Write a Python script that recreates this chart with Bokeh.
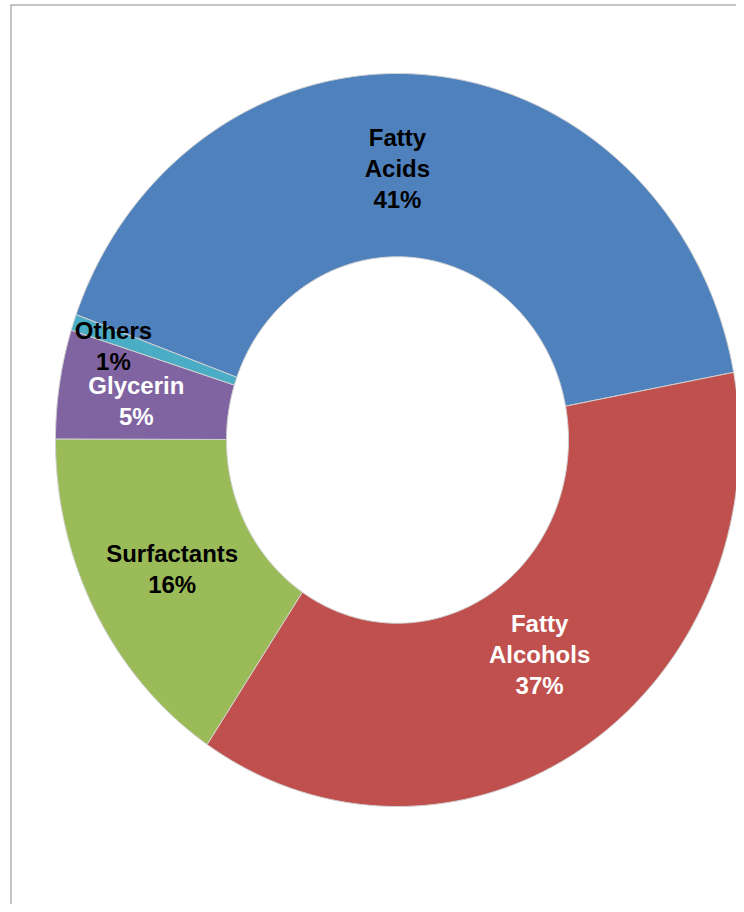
import numpy as np
from bokeh.plotting import figure
from bokeh.models import ColumnDataSource, Range1d, Span
from bokeh.core.properties import value
from bokeh.embed import file_html
from bokeh.resources import INLINE

# ---- data ----
categories = ["Fatty Acids", "Fatty Alcohols", "Surfactants", "Glycerin", "Others"]
shares = [41.49, 37.35, 15.65, 4.80, 0.71]          # percent
colors = ["#4F81BD", "#C0504D", "#9BBB59", "#8064A2", "#4BACC6"]
label_colors = ["#000000", "#FFFFFF", "#000000", "#FFFFFF", "#000000"]

# ---- layout ----
start_angle_deg = 160.0      # first slice starts here, slices run clockwise
inner_r, outer_r = 0.5, 1.0
label_r = [0.741, 0.717, 0.747, 0.771, 0.869]
label_angle_nudge = [4.7, 2.0, 0.1, 0.9, 1.6]   # degrees

total = float(sum(shares))
spans = [s / total * 360.0 for s in shares]
ends = start_angle_deg - np.cumsum(spans)
starts = ends + np.array(spans)

xs, ys, lx, ly, texts = [], [], [], [], []
for i, (a0, a1) in enumerate(zip(starts, ends)):
    n = max(int(abs(a0 - a1) * 2), 8)
    t = np.radians(np.linspace(a0, a1, n))
    xo, yo = outer_r * np.cos(t), outer_r * np.sin(t)
    xi, yi = inner_r * np.cos(t[::-1]), inner_r * np.sin(t[::-1])
    xs.append(np.concatenate([xo, xi]).tolist())
    ys.append(np.concatenate([yo, yi]).tolist())
    mid = np.radians((a0 + a1) / 2 + label_angle_nudge[i])
    lx.append(label_r[i] * np.cos(mid))
    ly.append(label_r[i] * np.sin(mid))
    texts.append(categories[i].replace(" ", "\n") + "\n" + f"{round(shares[i])}%")

src = ColumnDataSource(dict(xs=xs, ys=ys, color=colors))
lsrc = ColumnDataSource(dict(x=lx, y=ly, text=texts, tc=label_colors))

# screen geometry: centre at (405, 447.5) page px, radius 342 px (x) by 366.5 px (y)
W, H = 736, 904
left_pad, top_pad = 10, 4
cx, cy, sx, sy = 405 - 8, 447.5 - 8, 342.0, 366.5
x0 = (left_pad - cx) / sx
x1 = (W - cx) / sx
y1 = (cy - top_pad) / sy
y0 = (cy - H) / sy

p = figure(width=W, height=H, output_backend="svg", toolbar_location=None,
           x_range=Range1d(x0, x1), y_range=Range1d(y0, y1),
           min_border_left=left_pad, min_border_top=top_pad,
           min_border_right=0, min_border_bottom=0)
p.axis.visible = False
p.grid.visible = False
p.outline_line_color = None
p.background_fill_color = "white"
p.border_fill_color = "white"

p.patches("xs", "ys", source=src, fill_color="color", line_color="#d0d0d0", line_width=1)

p.text("x", "y", text="text", source=lsrc, text_color="tc",
       text_font=value("Liberation Sans"), text_font_style="bold",
       text_font_size="24px", text_align="center", text_baseline="middle",
       text_line_height=1.15)

p.add_layout(Span(location=x0, dimension="height", line_color="#8c8c8c", line_width=2))
p.add_layout(Span(location=y1, dimension="width", line_color="#8c8c8c", line_width=2))

open("out.html", "w").write(file_html(p, INLINE))
